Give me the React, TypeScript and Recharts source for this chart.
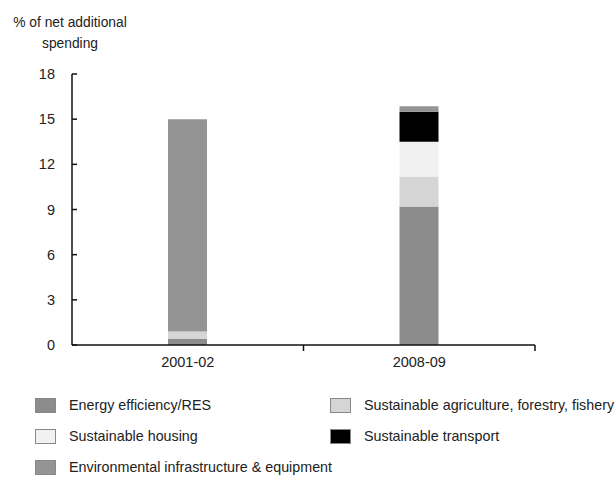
import React from 'react';
import { BarChart, Bar, XAxis, YAxis } from 'recharts';

const categories = ['2001-02', '2008-09'];
const energyEfficiency = [0.4, 9.2];
const agriculture = [0.5, 2.0];
const housing = [0, 2.3];
const transport = [0, 2.0];
const environment = [14.1, 0.35];
const yTicks = [0, 3, 6, 9, 12, 15, 18];

const seriesMeta = [
  { key: 'energy', name: 'Energy efficiency/RES', color: '#8c8c8c', values: energyEfficiency },
  { key: 'agri', name: 'Sustainable agriculture, forestry, fishery', color: '#d5d5d5', values: agriculture },
  { key: 'housing', name: 'Sustainable housing', color: '#f1f1f1', values: housing },
  { key: 'transport', name: 'Sustainable transport', color: '#000000', values: transport },
  { key: 'env', name: 'Environmental infrastructure & equipment', color: '#949494', values: environment },
];

const data = categories.map((c, i) => {
  const row: Record<string, any> = { category: c };
  seriesMeta.forEach((s) => {
    row[s.key] = s.values[i];
  });
  return row;
});

const FONT = '"Liberation Sans", Arial, sans-serif';
const PLOT_LEFT = 72;
const PLOT_RIGHT = 535;
const HALF_BAND = (PLOT_RIGHT - PLOT_LEFT) / categories.length / 2;

const YTick = (props: any) => {
  const { x, y, payload } = props;
  const axisX = x + 17;
  return (
    <g>
      <line x1={axisX} x2={axisX + 5} y1={y} y2={y} stroke="#111" strokeWidth={1.5} />
      <text x={x} y={y} dy={5} textAnchor="end" fontSize={14.5} fill="#222" fontFamily={FONT}>
        {payload.value}
      </text>
    </g>
  );
};

const XTick = (props: any) => {
  const { x, y, payload } = props;
  const axisY = y - 8;
  return (
    <g>
      <line x1={x + HALF_BAND} x2={x + HALF_BAND} y1={axisY} y2={axisY - 6} stroke="#111" strokeWidth={1.5} />
      <text x={x} y={y} dy={8} textAnchor="middle" fontSize={14.5} fill="#222" fontFamily={FONT}>
        {payload.value}
      </text>
    </g>
  );
};

const legendRows = [
  [seriesMeta[0], seriesMeta[1]],
  [seriesMeta[2], seriesMeta[3]],
  [seriesMeta[4]],
];

export default function App() {
  return (
    <div style={{ position: 'absolute', left: 0, top: 0, width: 615, height: 478, background: '#fff', fontFamily: FONT }}>
      <div
        style={{
          position: 'absolute',
          left: 10,
          top: 12,
          width: 120,
          textAlign: 'center',
          fontSize: 13.8,
          lineHeight: '21px',
          color: '#222',
        }}
      >
        % of net additional
        <br />
        spending
      </div>
      <BarChart
        width={615}
        height={478}
        data={data}
        margin={{ top: 74, right: 615 - PLOT_RIGHT, bottom: 103, left: 12 }}
        barSize={39}
      >
        <XAxis
          dataKey="category"
          tickLine={false}
          tick={<XTick />}
          tickMargin={8}
          height={30}
          axisLine={{ stroke: '#111', strokeWidth: 1.5 }}
        />
        <YAxis
          domain={[0, 18]}
          ticks={yTicks}
          interval={0}
          tickLine={false}
          tickSize={0}
          tickMargin={17}
          width={60}
          tick={<YTick />}
          axisLine={{ stroke: '#111', strokeWidth: 1.5 }}
        />
        {seriesMeta.map((s) => (
          <Bar key={s.key} dataKey={s.key} name={s.name} stackId="a" fill={s.color} isAnimationActive={false} />
        ))}
      </BarChart>
      {legendRows.map((row, ri) => (
        <React.Fragment key={ri}>
          {row.map((s, ci) => (
            <div
              key={s.key}
              style={{
                position: 'absolute',
                left: ci === 0 ? 35 : 330,
                top: 397 + ri * 31,
                display: 'flex',
                alignItems: 'center',
                fontSize: 14.3,
                color: '#222',
                whiteSpace: 'nowrap',
              }}
            >
              <span
                style={{
                  display: 'inline-block',
                  width: 19,
                  height: 13,
                  background: s.color,
                  border: '1px solid #888',
                  marginRight: 13,
                }}
              />
              <span>{s.name}</span>
            </div>
          ))}
        </React.Fragment>
      ))}
    </div>
  );
}
